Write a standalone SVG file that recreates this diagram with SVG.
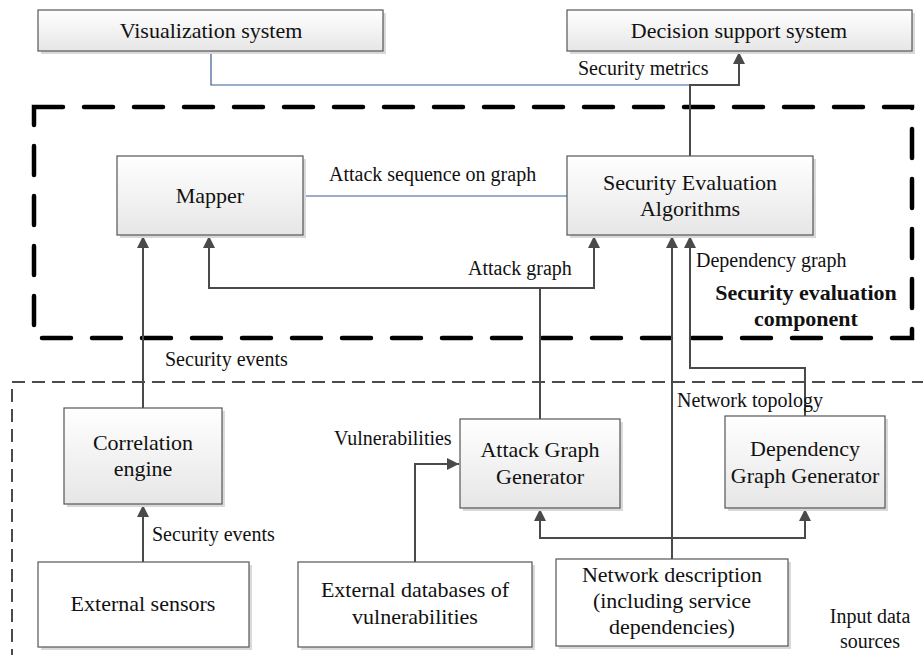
<svg xmlns="http://www.w3.org/2000/svg" width="923" height="655" viewBox="0 0 923 655">
  <defs>
    <linearGradient id="boxFill" x1="0" y1="0" x2="0" y2="1">
      <stop offset="0" stop-color="#ffffff"/>
      <stop offset="1" stop-color="#e6e6e6"/>
    </linearGradient>
    <marker id="arrow" viewBox="0 0 12 12" refX="12" refY="6" markerWidth="12" markerHeight="12" markerUnits="userSpaceOnUse" orient="auto">
      <path d="M0,0 L12,6 L0,12 Z" fill="#4a4a4a"/>
    </marker>
  </defs>
  <style>
    .shadow { fill: #d9d9d9; }
    .box { fill: url(#boxFill); stroke: #555555; stroke-width: 1.2; }
    .plain { fill: #ffffff; stroke: #555555; stroke-width: 1.2; }
    .lbl { font-family: "Liberation Serif", "Times New Roman", serif; font-size: 22px; fill: #111111; text-anchor: middle; }
    .edge { font-family: "Liberation Serif", "Times New Roman", serif; font-size: 20px; fill: #111111; }
    .bold { font-family: "Liberation Serif", "Times New Roman", serif; font-size: 22px; font-weight: bold; fill: #111111; text-anchor: middle; }
    .conn { fill: none; stroke: #4a4a4a; stroke-width: 2; }
    .arr { marker-end: url(#arrow); }
    .blue { fill: none; stroke: #3a5a98; stroke-width: 1.2; }
    .zoneThick { fill: none; stroke: #000000; stroke-width: 4.5; stroke-dasharray: 29 21; stroke-linecap: round; }
    .zoneThin { fill: none; stroke: #111111; stroke-width: 1.5; stroke-dasharray: 13 7; }
  </style>

  <rect id="evaluation-zone" class="zoneThick" x="34" y="107" width="878" height="231"/>
  <rect id="input-zone" class="zoneThin" x="12" y="382" width="930" height="300"/>

  <g id="connectors">
    <!-- plain links -->
    <polyline class="blue" points="211,51 211,85 690,85"/>
    <line class="blue" x1="303" y1="196" x2="567" y2="196"/>
    <!-- security metrics -->
    <polyline class="conn arr" points="690,156 690,85 739,85 739,52"/>
    <!-- security events into mapper -->
    <polyline class="conn arr" points="143,408 143,236"/>
    <!-- attack graph -->
    <polyline class="conn arr" points="540,419 540,288 209,288 209,236"/>
    <polyline class="conn arr" points="540,288 594,288 594,236"/>
    <!-- network description into algorithms -->
    <polyline class="conn arr" points="672,559 672,236"/>
    <!-- dependency graph -->
    <polyline class="conn arr" points="805,416 805,368 690,368 690,236"/>
    <!-- security events from sensors -->
    <polyline class="conn arr" points="143,562 143,505"/>
    <!-- vulnerabilities -->
    <polyline class="conn arr" points="415,562 415,464 459,464"/>
    <!-- network description into generators -->
    <polyline class="conn arr" points="672,538 540,538 540,509"/>
    <polyline class="conn arr" points="672,538 805,538 805,509"/>

    <text class="edge" x="578" y="75">Security metrics</text>
    <text class="edge" x="329" y="181">Attack sequence on graph</text>
    <text class="edge" x="468" y="275">Attack graph</text>
    <text class="edge" x="696" y="267">Dependency graph</text>
    <text class="edge" x="165" y="366">Security events</text>
    <text class="edge" x="152" y="541">Security events</text>
    <text class="edge" x="334" y="445">Vulnerabilities</text>
    <text class="edge" x="677" y="407">Network topology</text>
  </g>

  <g id="visualization-system">
    <rect class="shadow" x="41" y="13" width="345" height="41"/>
    <rect class="box" x="38" y="10" width="345" height="41"/>
    <text class="lbl" x="211" y="38">Visualization system</text>
  </g>

  <g id="decision-support-system">
    <rect class="shadow" x="570" y="13" width="345" height="41"/>
    <rect class="box" x="567" y="10" width="345" height="41"/>
    <text class="lbl" x="739" y="38">Decision support system</text>
  </g>

  <g id="mapper">
    <rect class="shadow" x="120" y="159" width="186" height="79"/>
    <rect class="box" x="117" y="156" width="186" height="79"/>
    <text class="lbl" x="210" y="203">Mapper</text>
  </g>

  <g id="security-evaluation-algorithms">
    <rect class="shadow" x="570" y="159" width="246" height="79"/>
    <rect class="box" x="567" y="156" width="246" height="79"/>
    <text class="lbl" x="690" y="190">Security Evaluation</text>
    <text class="lbl" x="690" y="216">Algorithms</text>
  </g>

  <g id="evaluation-zone-label">
    <text class="bold" x="806" y="300">Security evaluation</text>
    <text class="bold" x="806" y="326">component</text>
  </g>

  <g id="correlation-engine">
    <rect class="shadow" x="67" y="411" width="158" height="96"/>
    <rect class="box" x="64" y="408" width="158" height="96"/>
    <text class="lbl" x="143" y="450">Correlation</text>
    <text class="lbl" x="143" y="476">engine</text>
  </g>

  <g id="attack-graph-generator">
    <rect class="shadow" x="463" y="422" width="160" height="89"/>
    <rect class="box" x="460" y="419" width="160" height="89"/>
    <text class="lbl" x="540" y="457">Attack Graph</text>
    <text class="lbl" x="540" y="484">Generator</text>
  </g>

  <g id="dependency-graph-generator">
    <rect class="shadow" x="728" y="419" width="160" height="92"/>
    <rect class="box" x="725" y="416" width="160" height="92"/>
    <text class="lbl" x="805" y="456">Dependency</text>
    <text class="lbl" x="805" y="483">Graph Generator</text>
  </g>

  <g id="external-sensors">
    <rect class="shadow" x="41" y="565" width="211" height="85"/>
    <rect class="plain" x="38" y="562" width="211" height="85"/>
    <text class="lbl" x="143" y="611">External sensors</text>
  </g>

  <g id="external-databases">
    <rect class="shadow" x="301" y="565" width="234" height="85"/>
    <rect class="plain" x="298" y="562" width="234" height="85"/>
    <text class="lbl" x="415" y="597">External databases of</text>
    <text class="lbl" x="415" y="624">vulnerabilities</text>
  </g>

  <g id="network-description">
    <rect class="shadow" x="559" y="562" width="232" height="87"/>
    <rect class="plain" x="556" y="559" width="232" height="87"/>
    <text class="lbl" x="672" y="582">Network description</text>
    <text class="lbl" x="672" y="608">(including service</text>
    <text class="lbl" x="672" y="634">dependencies)</text>
  </g>

  <g id="input-zone-label">
    <text class="edge" x="870" y="623" text-anchor="middle">Input data</text>
    <text class="edge" x="870" y="648" text-anchor="middle">sources</text>
  </g>
</svg>
